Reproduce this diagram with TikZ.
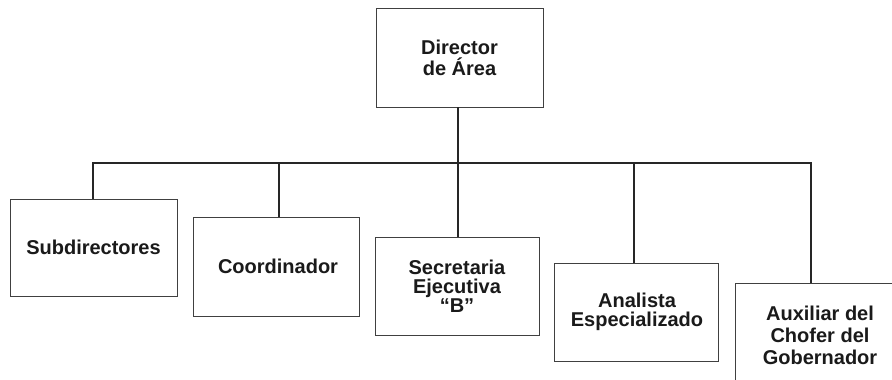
\documentclass[tikz,border=0pt]{standalone}
\usepackage{fontspec}
\setmainfont{Liberation Sans}
\begin{document}
\begin{tikzpicture}[x=1pt,y=-1pt,
  box/.style={draw=boxgray,line width=0.9pt,fill=white,inner sep=0pt,align=center,
    text=txt,font=\bfseries\fontsize{20}{19}\selectfont},
  conn/.style={draw=black!85,line width=2.8pt,line join=miter,line cap=butt}]
\definecolor{boxgray}{HTML}{404040}
\definecolor{txt}{HTML}{1A1A1A}
\useasboundingbox (0,0) rectangle (892,380);
\clip (0,0) rectangle (892,380);
% boxes
\node[box,minimum width=167pt,minimum height=99pt,
  font=\bfseries\fontsize{20}{21}\selectfont] (dir) at (459.5,57.5) {Director\\de Área};
\node[box,minimum width=167pt,minimum height=97pt] (sub) at (93.5,247.5) {Subdirectores};
\node[box,minimum width=166pt,minimum height=99pt] (coo) at (276.5,266.5) {\hspace*{3pt}Coordinador};
\node[box,minimum width=164pt,minimum height=98pt,
  font=\bfseries\fontsize{20}{19}\selectfont] (sec) at (457,286) {Secretaria\\Ejecutiva\\“B”};
\node[box,minimum width=164pt,minimum height=98pt,
  font=\bfseries\fontsize{20}{19.5}\selectfont] (ana) at (636,312) {\hspace*{2pt}Analista\\\hspace*{2pt}Especializado};
\node[box,minimum width=170pt,minimum height=104pt,
  font=\bfseries\fontsize{20}{22}\selectfont] (aux) at (820,335) {Auxiliar del\\Chofer del\\Gobernador};
% bus coordinates
\coordinate (b1) at (93,163);
\coordinate (b2) at (279,163);
\coordinate (b3) at (458,163);
\coordinate (b4) at (634,163);
\coordinate (b5) at (811,163);
% connectors
\draw[conn] (b3 |- dir.south) -- (b3);
\draw[conn] (b1 |- sub.north) -- (b1) -- (b5) -- (b5 |- aux.north);
\draw[conn] (b2) -- (b2 |- coo.north);
\draw[conn] (b3) -- (b3 |- sec.north);
\draw[conn] (b4) -- (b4 |- ana.north);
\end{tikzpicture}
\end{document}
